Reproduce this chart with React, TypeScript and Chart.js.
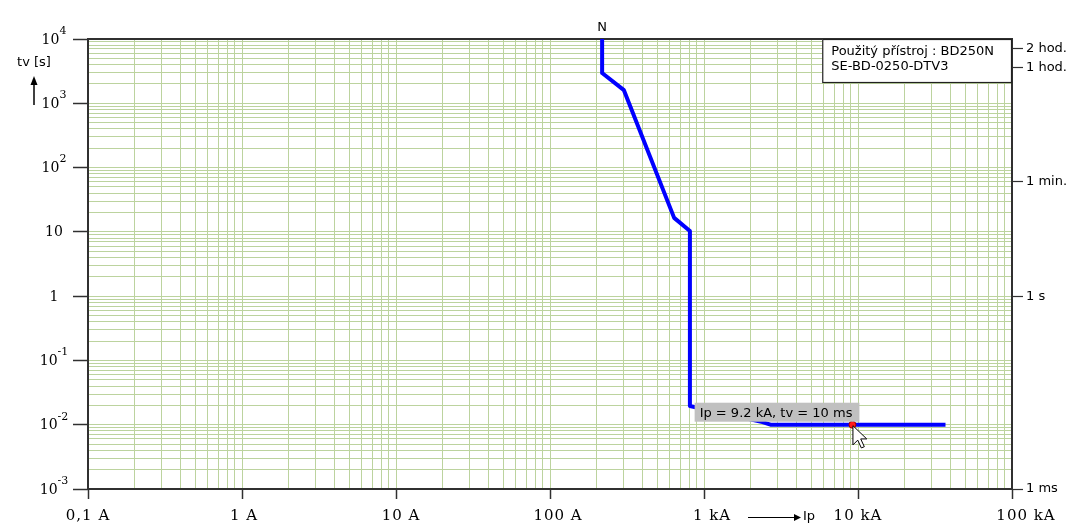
import React, { useEffect, useRef } from 'react';
import { Chart, registerables } from 'chart.js';

Chart.register(...registerables);

// ---- data ----
const currentA = [218, 218, 302, 640, 810, 810, 2400, 2700, 37000];
const timeS = [10000, 2960, 1600, 16.5, 10.3, 0.0196, 0.011, 0.01, 0.01];

const xMin = 0.1;
const xMax = 100000;
const yMin = 0.001;
const yMax = 10000;

const xTickValues = [0.1, 1, 10, 100, 1000, 10000, 100000];
const xTickLabels = ['0,1 A', '1 A', '10 A', '100 A', '1 kA', '10 kA', '100 kA'];

const yTickValues = [0.001, 0.01, 0.1, 1, 10, 100, 1000, 10000];
const yTickBases = ['10', '10', '10', '1', '10', '10', '10', '10'];
const yTickExponents = ['-3', '-2', '-1', '', '', '2', '3', '4'];

const timeTickValues = [0.001, 1, 60, 3600, 7200];
const timeTickLabels = ['1 ms', '1 s', '1 min.', '1 hod.', '2 hod.'];

const markerCurrent = [9200];
const markerTime = [0.01];
const tooltipText = 'Ip = 9.2 kA, tv = 10 ms';
const deviceLines = ['Použitý přístroj : BD250N', 'SE-BD-0250-DTV3'];
const curveName = 'N';
const yTitle = 'tv [s]';
const xTitle = 'Ip';

// ---- styling ----
const GRID = '#bcd39e';
const AXIS = '#303030';
const SANS = '"DejaVu Sans", sans-serif';
const SERIF = '"DejaVu Serif", serif';
// horizontal shift (px) of each bottom label's centre from its tick, as in the original program
const X_LABEL_SHIFT = [0, 2, 5, 8, 8, 0, 14];

function logGrid(min: number, max: number): number[] {
  const out: number[] = [];
  const e0 = Math.round(Math.log10(min));
  const e1 = Math.round(Math.log10(max));
  for (let e = e0; e < e1; e++) {
    for (let m = 1; m <= 9; m++) out.push(Number((m * Math.pow(10, e)).toPrecision(6)));
  }
  out.push(max);
  return out;
}
const isDecade = (v: number) => Math.abs(Math.log10(v) - Math.round(Math.log10(v))) < 1e-9;

const xGrid = logGrid(xMin, xMax);
const yGrid = logGrid(yMin, yMax);

const decorPlugin = {
  id: 'decor',
  beforeDatasetsDraw(chart: any) {
    const { ctx, chartArea: a } = chart;
    ctx.save();
    ctx.strokeStyle = AXIS;
    ctx.lineWidth = 2;
    ctx.strokeRect(a.left, a.top, a.right - a.left, a.bottom - a.top);
    ctx.restore();
  },
  afterDatasetsDraw(chart: any) {
    const { ctx, chartArea: a, scales } = chart;
    const xs = scales.x;
    const ys = scales.y;
    ctx.save();
    ctx.fillStyle = '#000';

    // left axis labels with superscripts
    const labelCx = a.left - 34;
    yTickValues.forEach((v, i) => {
      const py = ys.getPixelForValue(v);
      const base = yTickBases[i];
      const exp = yTickExponents[i];
      ctx.font = '14px ' + SERIF;
      const wb = ctx.measureText(base).width;
      ctx.font = '11px ' + SERIF;
      const we = exp ? ctx.measureText(exp).width : 0;
      const start = labelCx - (wb + we) / 2;
      ctx.textAlign = 'left';
      ctx.textBaseline = 'middle';
      ctx.font = '14px ' + SERIF;
      ctx.fillText(base, start, py + 1);
      if (exp) {
        ctx.font = '11px ' + SERIF;
        ctx.fillText(exp, start + wb, py - 8);
      }
    });

    // bottom axis labels
    ctx.textBaseline = 'middle';
    ctx.textAlign = 'center';
    ctx.font = '15px ' + SERIF;
    (ctx as any).letterSpacing = '1px';
    xTickValues.forEach((v, i) => {
      const px = xs.getPixelForValue(v);
      ctx.fillText(xTickLabels[i], px + X_LABEL_SHIFT[i], a.bottom + 27);
    });
    (ctx as any).letterSpacing = '0px';

    // x axis title with arrow
    const arrowY = a.bottom + 28;
    const ax0 = xs.getPixelForValue(1000) + 44;
    const ax1 = xs.getPixelForValue(10000) - 57;
    ctx.strokeStyle = '#000';
    ctx.lineWidth = 1;
    ctx.beginPath();
    ctx.moveTo(ax0, arrowY + 0.5);
    ctx.lineTo(ax1 - 4, arrowY + 0.5);
    ctx.stroke();
    ctx.beginPath();
    ctx.moveTo(ax1, arrowY + 0.5);
    ctx.lineTo(ax1 - 7, arrowY - 3);
    ctx.lineTo(ax1 - 7, arrowY + 4);
    ctx.closePath();
    ctx.fill();
    ctx.font = '13px ' + SANS;
    ctx.textAlign = 'left';
    ctx.fillText(xTitle, ax1 + 2, arrowY);

    // y axis title with arrow
    const tx = 34;
    ctx.font = '13px ' + SANS;
    ctx.textAlign = 'center';
    ctx.fillText(yTitle, tx, a.top + 24);
    ctx.lineWidth = 1.5;
    ctx.beginPath();
    ctx.moveTo(tx, a.top + 66);
    ctx.lineTo(tx, a.top + 44);
    ctx.stroke();
    ctx.beginPath();
    ctx.moveTo(tx, a.top + 37);
    ctx.lineTo(tx - 3.5, a.top + 46);
    ctx.lineTo(tx + 3.5, a.top + 46);
    ctx.closePath();
    ctx.fill();

    // curve name above the curve
    ctx.font = '13px ' + SANS;
    ctx.textAlign = 'center';
    ctx.fillText(curveName, xs.getPixelForValue(currentA[0]), a.top - 11);

    // device box
    ctx.font = '13px ' + SANS;
    const tw = Math.max(...deviceLines.map((t) => ctx.measureText(t).width));
    const bw = tw + 27;
    const bh = 44;
    const bx = a.right - bw;
    const by = a.top;
    ctx.fillStyle = '#fff';
    ctx.fillRect(bx, by, bw, bh);
    ctx.strokeStyle = '#202020';
    ctx.lineWidth = 1.2;
    ctx.strokeRect(bx + 0.5, by + 0.5, bw - 1, bh - 1);
    ctx.fillStyle = '#000';
    ctx.textAlign = 'left';
    ctx.textBaseline = 'middle';
    deviceLines.forEach((t, i) => ctx.fillText(t, bx + 9, by + 13 + i * 15));

    // tooltip box
    const mx = xs.getPixelForValue(markerCurrent[0]);
    const my = ys.getPixelForValue(markerTime[0]);
    ctx.font = '13px ' + SANS;
    const ttw = ctx.measureText(tooltipText).width + 12;
    const tth = 19;
    const tRight = mx + 7;
    const tBottom = my - 3;
    ctx.fillStyle = '#c0c0c0';
    ctx.fillRect(tRight - ttw, tBottom - tth, ttw, tth);
    ctx.fillStyle = '#000';
    ctx.textAlign = 'left';
    ctx.fillText(tooltipText, tRight - ttw + 5, tBottom - tth / 2 + 1);

    // mouse cursor
    const s = 1.2;
    const pts = [[0, 0], [0, 16], [4, 12], [7, 18.5], [9.5, 17.5], [6.5, 11], [11.5, 11]];
    ctx.beginPath();
    pts.forEach(([px, py], i) => {
      const X = mx + 0.5 + px * s;
      const Y = my + 1 + py * s;
      if (i === 0) ctx.moveTo(X, Y);
      else ctx.lineTo(X, Y);
    });
    ctx.closePath();
    ctx.fillStyle = '#fff';
    ctx.fill();
    ctx.strokeStyle = '#000';
    ctx.lineWidth = 1;
    ctx.stroke();

    ctx.restore();
  },
};

export default function App() {
  const canvasRef = useRef<HTMLCanvasElement | null>(null);

  useEffect(() => {
    const canvas = canvasRef.current;
    if (!canvas) return;
    const chart = new Chart(canvas, {
      type: 'line',
      data: {
        datasets: [
          {
            label: curveName,
            data: currentA.map((x, i) => ({ x, y: timeS[i] })),
            borderColor: '#0000ff',
            borderWidth: 4,
            pointRadius: 0,
            fill: false,
            tension: 0,
            borderJoinStyle: 'round',
            order: 2,
          },
          {
            label: 'marker',
            data: markerCurrent.map((x, i) => ({ x, y: markerTime[i] })),
            showLine: false,
            pointRadius: 3.5,
            pointBackgroundColor: '#ff1a1a',
            pointBorderColor: '#a00000',
            pointBorderWidth: 1,
            order: 1,
          },
        ],
      } as any,
      options: {
        animation: false,
        responsive: false,
        events: [],
        layout: { padding: { top: 39, left: 0, right: 0, bottom: 0 } },
        plugins: { legend: { display: false }, tooltip: { enabled: false } },
        scales: {
          x: {
            type: 'logarithmic',
            position: 'bottom',
            min: xMin,
            max: xMax,
            afterBuildTicks: (s: any) => {
              s.ticks = xGrid.map((v) => ({ value: v }));
            },
            afterFit: (s: any) => {
              s.height = 41;
            },
            grid: {
              color: GRID,
              lineWidth: 1,
              drawTicks: true,
              tickLength: 10,
              tickWidth: 1.5,
              tickColor: (c: any) => (c.tick && isDecade(c.tick.value) ? AXIS : 'rgba(0,0,0,0)'),
            },
            border: { display: false },
            ticks: { autoSkip: false, maxRotation: 0, callback: () => '' },
          },
          y: {
            type: 'logarithmic',
            position: 'left',
            min: yMin,
            max: yMax,
            afterBuildTicks: (s: any) => {
              s.ticks = yGrid.map((v) => ({ value: v }));
            },
            afterFit: (s: any) => {
              s.width = 88;
            },
            grid: {
              color: GRID,
              lineWidth: 1,
              drawTicks: true,
              tickLength: 15,
              tickWidth: 1.5,
              tickColor: (c: any) => (c.tick && isDecade(c.tick.value) ? AXIS : 'rgba(0,0,0,0)'),
            },
            border: { display: false },
            ticks: { autoSkip: false, callback: () => '' },
          },
          y2: {
            type: 'logarithmic',
            position: 'right',
            min: yMin,
            max: yMax,
            afterBuildTicks: (s: any) => {
              s.ticks = timeTickValues.map((v) => ({ value: v }));
            },
            afterFit: (s: any) => {
              s.width = 56;
            },
            grid: {
              drawOnChartArea: false,
              drawTicks: true,
              tickLength: 11,
              tickWidth: 1.2,
              tickColor: AXIS,
            },
            border: { display: false },
            ticks: {
              autoSkip: false,
              padding: 3,
              color: '#000',
              font: { family: 'DejaVu Sans', size: 13 },
              callback: (v: any) => {
                const idx = timeTickValues.findIndex((t) => Math.abs(t - Number(v)) < t * 1e-6);
                return idx >= 0 ? timeTickLabels[idx] : '';
              },
            },
          },
        },
      } as any,
      plugins: [decorPlugin],
    });
    return () => chart.destroy();
  }, []);

  return (
    <div style={{ position: 'fixed', left: 0, top: 0, width: 1068, height: 530, background: '#fff' }}>
      <canvas ref={canvasRef} width={1068} height={530} style={{ display: 'block' }} />
    </div>
  );
}
